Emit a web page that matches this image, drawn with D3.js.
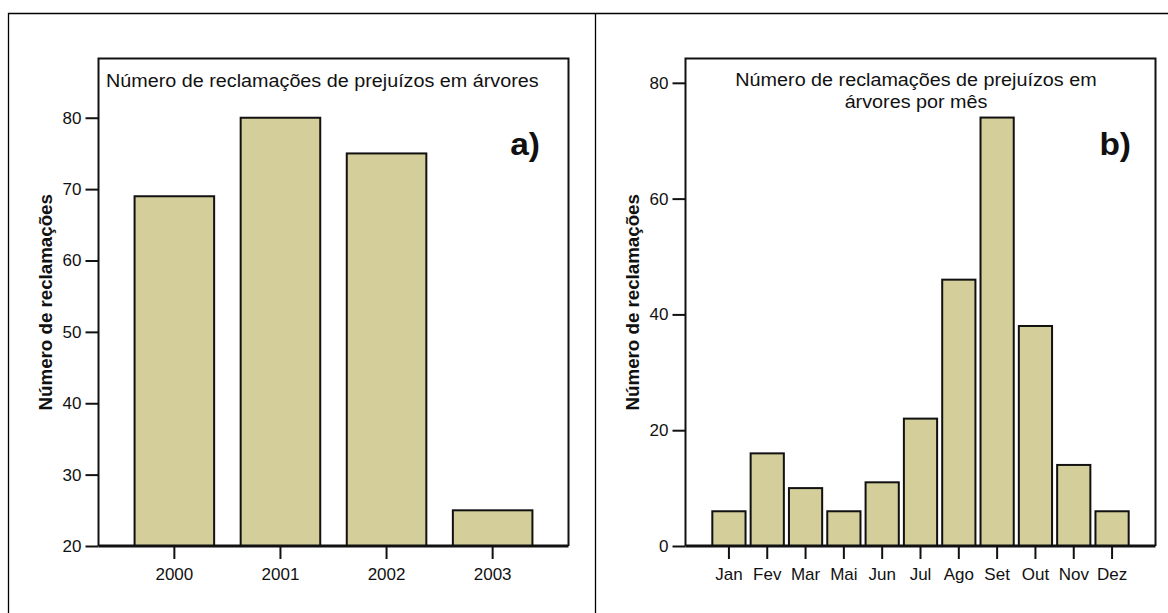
<!DOCTYPE html>
<html>
<head>
<meta charset="utf-8">
<script src="https://cdn.jsdelivr.net/npm/d3@7"></script>
<style>
  html, body { margin: 0; padding: 0; background: #fff; }
  svg { display: block; }
  text { font-family: "Liberation Sans", Arial, sans-serif; fill: #111; }
</style>
</head>
<body>
<svg id="chart" width="1168" height="613"></svg>
<script>
// Claims per year
const years = ["2000", "2001", "2002", "2003"];
const claimsPerYear = [69, 80, 75, 25];
const yearTicks = [20, 30, 40, 50, 60, 70, 80];

// Claims per month (no April in the record)
const months = ["Jan", "Fev", "Mar", "Mai", "Jun", "Jul", "Ago", "Set", "Out", "Nov", "Dez"];
const claimsPerMonth = [6, 16, 10, 6, 11, 22, 46, 74, 38, 14, 6];
const monthTicks = [0, 20, 40, 60, 80];

const yLabel = "Número de reclamações";
const titleA = ["Número de reclamações de prejuízos em árvores"];
const titleB = ["Número de reclamações de prejuízos em", "árvores por mês"];

const svg = d3.select("#chart");
const BAR_FILL = "#d3ce9a";
const STRETCH = 1.13;

// outer frames around the two panels
svg.append("path")
  .attr("d", "M8.5,613 V13.5 H1168 M595.5,13.5 V613")
  .attr("fill", "none").attr("stroke", "#000").attr("stroke-width", 1.3);

function drawPanel(cfg) {
  const g = svg.append("g");
  const { left, right, top, bottom } = cfg.box;

  const x = d3.scaleBand()
    .domain(cfg.categories)
    .range([left, right])
    .paddingInner(cfg.paddingInner)
    .paddingOuter(cfg.paddingOuter);

  const y = d3.scaleLinear()
    .domain(cfg.yDomain)
    .range([bottom, top]);

  // bars
  g.append("g").selectAll("rect")
    .data(cfg.values)
    .join("rect")
    .attr("x", (d, i) => x(cfg.categories[i]))
    .attr("width", x.bandwidth())
    .attr("y", d => y(d))
    .attr("height", d => y(cfg.yDomain[0]) - y(d))
    .attr("fill", BAR_FILL)
    .attr("stroke", "#111")
    .attr("stroke-width", 2);

  // plot frame (left, top, right)
  g.append("path")
    .attr("d", `M${left},${bottom} V${top} H${right} V${bottom}`)
    .attr("fill", "none").attr("stroke", "#111").attr("stroke-width", 2);

  // y axis
  const yAxis = g.append("g")
    .attr("transform", `translate(${left},0)`)
    .call(d3.axisLeft(y).tickValues(cfg.yTicks).tickSize(13).tickPadding(4).tickFormat(d3.format("d")));
  yAxis.select(".domain").remove();
  yAxis.selectAll(".tick line").attr("stroke", "#111").attr("stroke-width", 2);
  yAxis.selectAll(".tick text").attr("font-size", 17).attr("fill", "#111")
    .style("font-family", '"Liberation Sans", Arial, sans-serif');

  // x axis
  const xAxis = g.append("g")
    .attr("transform", `translate(0,${bottom})`)
    .call(d3.axisBottom(x).tickSize(13).tickPadding(9));
  xAxis.select(".domain").remove();
  xAxis.selectAll(".tick line").attr("stroke", "#111").attr("stroke-width", 2);
  xAxis.selectAll(".tick text").attr("font-size", 17).attr("fill", "#111")
    .style("font-family", '"Liberation Sans", Arial, sans-serif');

  // baseline drawn over the bar bottoms
  g.append("line")
    .attr("x1", left).attr("x2", right)
    .attr("y1", bottom).attr("y2", bottom)
    .attr("stroke", "#111").attr("stroke-width", 3);

  // title inside the frame
  cfg.title.forEach((line, i) => {
    g.append("text")
      .attr("transform", `translate(${cfg.titlePos[0]},${cfg.titlePos[1] + i * 21.5}) scale(${STRETCH},1)`)
      .attr("text-anchor", cfg.titleAnchor)
      .attr("font-size", 17.5)
      .text(line);
  });

  // panel tag
  g.append("text")
    .attr("transform", `translate(${cfg.tagPos[0]},${cfg.tagPos[1]}) scale(1.08,1)`)
    .attr("text-anchor", "end")
    .attr("font-size", 31)
    .attr("font-weight", "bold")
    .text(cfg.tag);

  // y axis title
  g.append("text")
    .attr("transform", `translate(${left - 47},${(top + bottom) / 2}) rotate(-90) scale(1.07,1)`)
    .attr("text-anchor", "middle")
    .attr("font-size", 17.5)
    .attr("font-weight", "bold")
    .text(yLabel);
}

drawPanel({
  box: { left: 98.5, right: 568.5, top: 58.5, bottom: 546 },
  categories: years,
  values: claimsPerYear,
  yDomain: [20, 88.3],
  yTicks: yearTicks,
  paddingInner: 0.25,
  paddingOuter: 0.34,
  title: titleA,
  titlePos: [106, 87.3],
  titleAnchor: "start",
  tag: "a)",
  tagPos: [540, 155]
});

drawPanel({
  box: { left: 685.5, right: 1155.5, top: 58.5, bottom: 546 },
  categories: months,
  values: claimsPerMonth,
  yDomain: [0, 84.2],
  yTicks: monthTicks,
  paddingInner: 0.133,
  paddingOuter: 0.70,
  title: titleB,
  titlePos: [916, 86],
  titleAnchor: "middle",
  tag: "b)",
  tagPos: [1131, 155]
});
</script>
</body>
</html>
